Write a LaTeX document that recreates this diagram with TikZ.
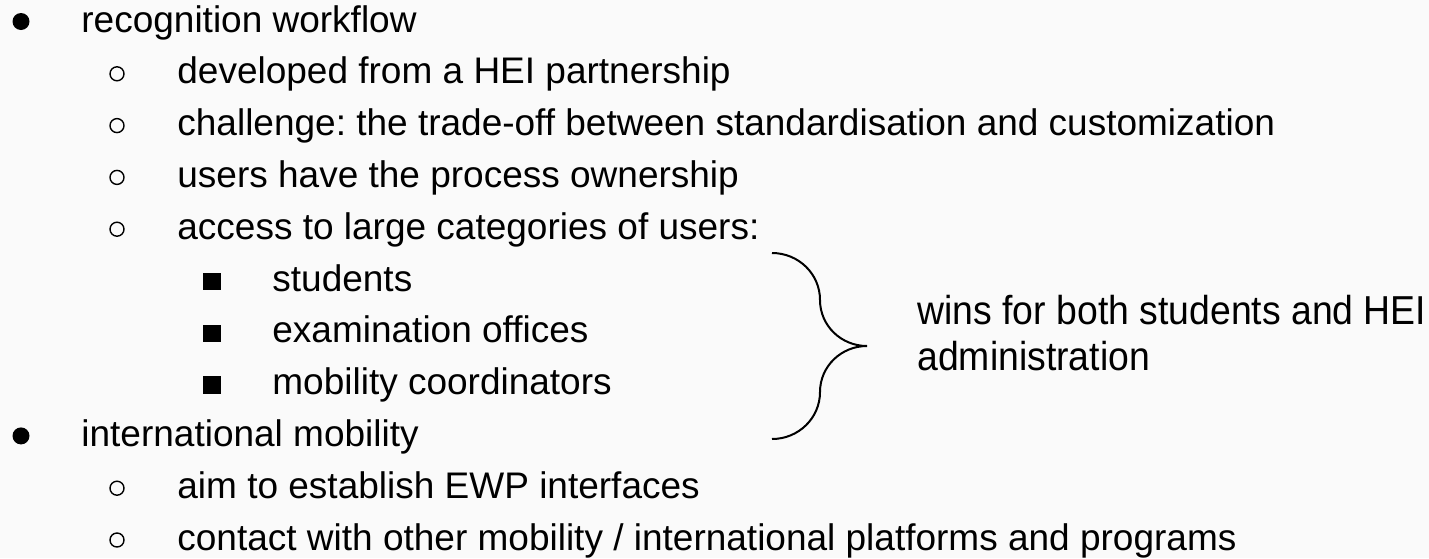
\documentclass[tikz,border=0pt]{standalone}
\usepackage{fontspec}
\setmainfont{Liberation Sans}
\newfontfamily\narrowfont[FakeStretch=0.925]{Liberation Sans}
\usepackage{tikz}
\usetikzlibrary{positioning}
\frenchspacing
\newcommand{\slidesize}{\fontsize{18.5pt}{23pt}\selectfont}
\newcommand{\notesize}{\fontsize{20.2pt}{23pt}\selectfont}
\definecolor{slidebg}{RGB}{250,250,250}

\begin{document}
\begin{tikzpicture}[x=0.5pt, y=-0.5pt,
    entry/.style={anchor=base west, inner sep=0pt, font=\slidesize},
    dotone/.style={circle, fill=black, inner sep=0pt, minimum size=8.5pt},
    dottwo/.style={circle, draw=black, line width=0.7pt, inner sep=0pt, minimum size=7pt},
    dotthree/.style={rectangle, fill=black, inner sep=0pt, minimum size=8.8pt},
    note/.style={anchor=base west, inner sep=0pt, font=\narrowfont\notesize}]

    \fill[slidebg] (0,0) rectangle (1429,558);
    \useasboundingbox (0,0) rectangle (1429,558);

    % first list
    \node[dotone] (b0) at (21,21.5) {};
    \node[entry] (t0) at (81,32) {recognition workflow};
    \node[dottwo] (b1) at (117,73.8) {};
    \node[entry] (t1) at (177,83.8) {developed from a HEI partnership};
    \node[dottwo] (b2) at (117,125.6) {};
    \node[entry] (t2) at (177,135.6) {challenge: the trade-off between standardisation and customization};
    \node[dottwo] (b3) at (117,177.4) {};
    \node[entry] (t3) at (177,187.4) {users have the process ownership};
    \node[dottwo] (b4) at (117,229.2) {};
    \node[entry] (t4) at (177,239.2) {access to large categories of users:};
    \node[dotthree] (b5) at (212,281.5) {};
    \node[entry] (t5) at (272,291) {students};
    \node[dotthree] (b6) at (212,333.3) {};
    \node[entry] (t6) at (272,342.8) {examination offices};
    \node[dotthree] (b7) at (212,385.1) {};
    \node[entry] (t7) at (272,394.6) {mobility coordinators};

    % second list
    \node[dotone] (b8) at (21,435.9) {};
    \node[entry] (t8) at (81,446.4) {international mobility};
    \node[dottwo] (b9) at (117,488.2) {};
    \node[entry] (t9) at (177,498.2) {aim to establish EWP interfaces};
    \node[dottwo] (b10) at (117,540) {};
    \node[entry] (t10) at (177,550) {contact with other mobility / international platforms and programs};

    % brace and remark
    \coordinate (bracetop) at (772,253);
    \coordinate (braceupper) at (820,300);
    \coordinate (bracetip) at (867,346);
    \coordinate (bracelower) at (820,392);
    \coordinate (bracebot) at (772,439);
    \draw[line width=1pt]
        (bracetop) to[out=0, in=90] (braceupper)
        to[out=-90, in=180] (bracetip)
        to[out=180, in=90] (bracelower)
        to[out=-90, in=0] (bracebot);

    \node[note] (wins) at (917,324) {wins for both students and HEI};
    \node[note] (admin) at (917,370) {administration};

\end{tikzpicture}
\end{document}
